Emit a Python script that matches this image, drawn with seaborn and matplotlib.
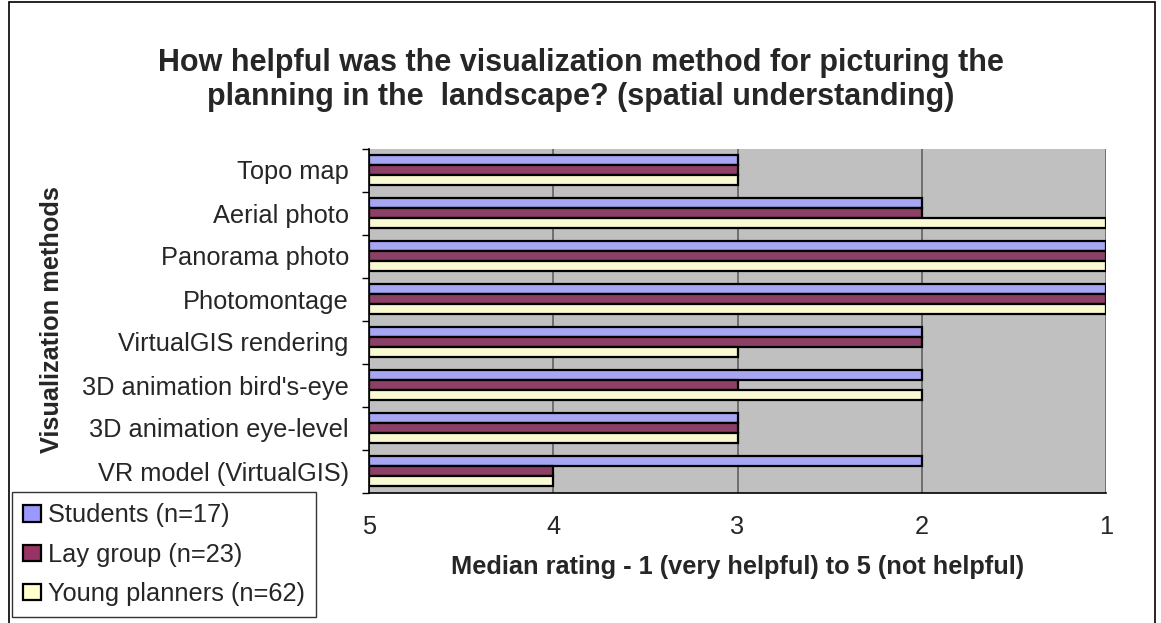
import numpy as np
import pandas as pd
import seaborn as sns
import matplotlib.pyplot as plt
from matplotlib.patches import Rectangle, Patch
from matplotlib.ticker import FixedLocator

methods = ["Topo map", "Aerial photo", "Panorama photo", "Photomontage",
           "VirtualGIS rendering", "3D animation bird's-eye",
           "3D animation eye-level", "VR model (VirtualGIS)"]
groups = ["Students (n=17)", "Lay group (n=23)", "Young planners (n=62)"]
students = [3, 2, 1, 1, 2, 2, 3, 2]
lay_group = [3, 2, 1, 1, 2, 3, 3, 4]
young_planners = [3, 1, 1, 1, 3, 2, 3, 4]
tick_values = [5, 4, 3, 2, 1]
colors = ["#9999FF", "#993366", "#FFFFCC"]

rows = []
for g, vals in zip(groups, [students, lay_group, young_planners]):
    for m, v in zip(methods, vals):
        rows.append({"method": m, "group": g, "rating": v, "length": 5 - v})
df = pd.DataFrame(rows)

sns.set_theme(style="white")
plt.rcParams['font.family'] = ['Liberation Sans', 'DejaVu Sans']

FS = 18.3
W, H = 1161, 623
fig = plt.figure(figsize=(W / 100, H / 100), dpi=100)
ax = fig.add_axes([369 / W, 1 - 492.5 / H, (1106 - 369) / W, (492.5 - 148.5) / H])
ax.set_facecolor("#C0C0C0")

sns.barplot(data=df, y="method", x="length", hue="group", orient="h",
            palette=colors, width=0.7, edgecolor="black", linewidth=1.6,
            order=methods, hue_order=groups, ax=ax, legend=False, errorbar=None)

ax.set_xlim(0, 4)
ax.set_ylim(len(methods) - 0.5, -0.5)
ax.set_xticks([5 - t for t in tick_values])
ax.set_xticklabels([str(t) for t in tick_values], fontsize=FS)
ax.tick_params(axis="x", direction="out", length=5, width=1, color="black", pad=11)
ax.tick_params(axis="y", which="major", length=0, pad=14.5, labelsize=FS)
ax.yaxis.set_minor_locator(FixedLocator(np.arange(-0.5, len(methods), 1.0)))
ax.tick_params(axis="y", which="minor", direction="out", length=5, width=1, color="black", left=True)

ax.grid(axis="x", color="#606060", linewidth=1.2)
ax.set_axisbelow(True)
for s in ["top", "right"]:
    ax.spines[s].set_visible(False)
for s in ["left", "bottom"]:
    ax.spines[s].set_color("black")
    ax.spines[s].set_linewidth(1.2)

ax.set_xlabel("Median rating - 1 (very helpful) to 5 (not helpful)",
              fontsize=FS, fontweight="bold", labelpad=12)
ax.set_ylabel("")
fig.text(52 / W, 1 - 320 / H, "Visualization methods", rotation=90,
         fontsize=FS, fontweight="bold", ha="center", va="center")

fig.text(0.5, 1 - 80 / H,
         "How helpful was the visualization method for picturing the\nplanning in the  landscape? (spatial understanding)",
         ha="center", va="center", fontsize=22, fontweight="bold", linespacing=1.15)

handles = [Patch(facecolor=c, edgecolor="black", linewidth=1.6) for c in colors]
leg = fig.legend(handles, groups, loc="upper left",
                 bbox_to_anchor=(12 / W, 1 - 492 / H), bbox_transform=fig.transFigure,
                 fontsize=FS, frameon=True, fancybox=False, edgecolor="black",
                 handlelength=0.7, handleheight=0.6, handletextpad=0.25,
                 labelspacing=0.6, borderpad=0.45, borderaxespad=0)
leg.get_frame().set_linewidth(1.0)

fig.patches.append(Rectangle((9 / W, -0.02), (1155 - 9) / W, 1 - 2 / H + 0.02,
                             transform=fig.transFigure,
                             fill=False, edgecolor="black", linewidth=1.2))

fig.savefig("out.png", dpi=100)
